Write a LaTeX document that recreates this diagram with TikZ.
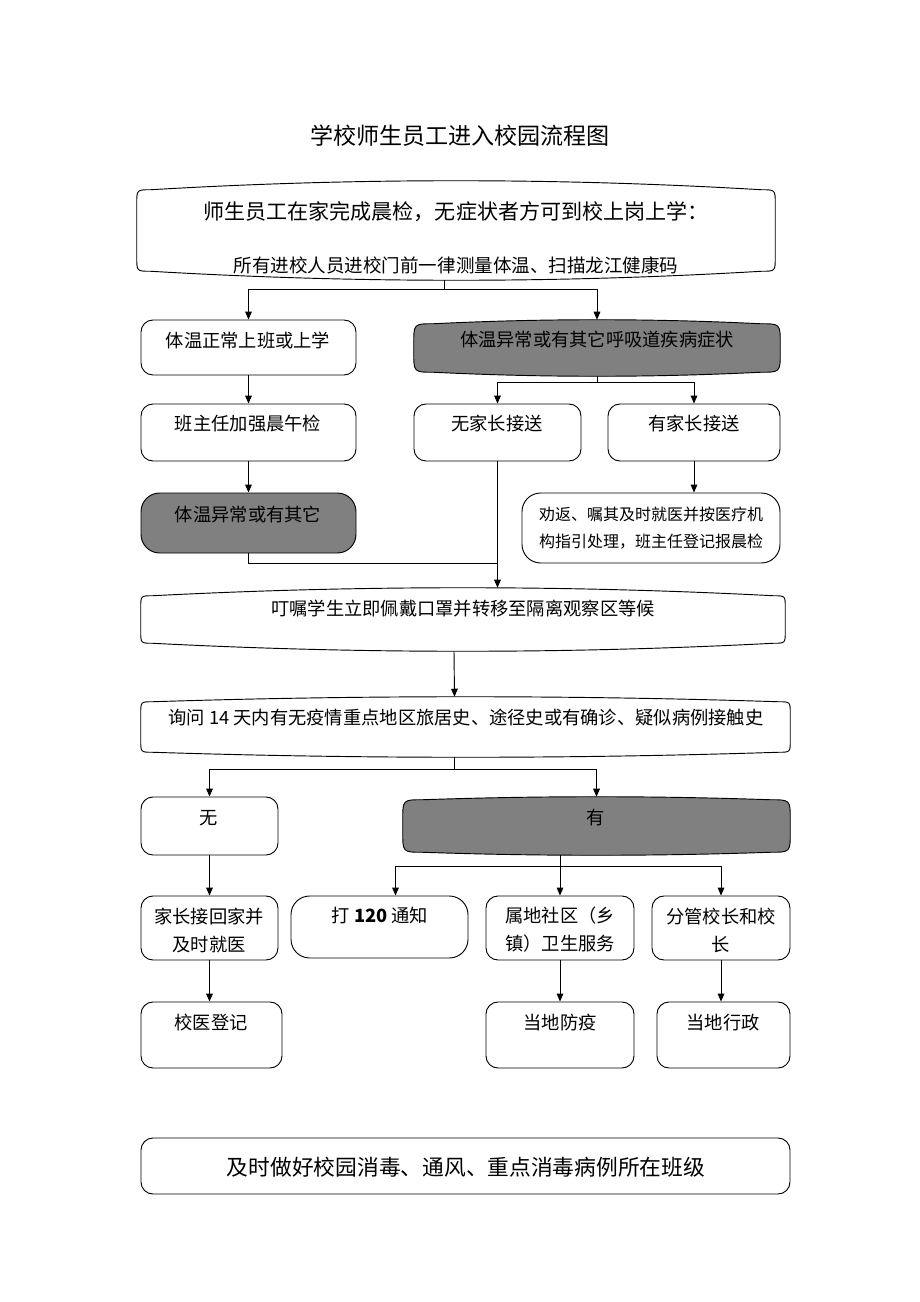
\documentclass[tikz,border=0pt]{standalone}
\usepackage{fontspec}
\newfontfamily\cjk{Noto Sans CJK SC}
\usetikzlibrary{arrows.meta,calc,fit}
\definecolor{boxgray}{HTML}{808080}

% #1 node, #2 bow, #3 corner, #4 style
\newcommand{\bowbox}[4]{%
\path (#1.north west) ++(#3,#2) coordinate (#1-b) (#1.north east) ++(-#3,#2) coordinate (#1-c)
      (#1.south east) ++(-#3,-#2) coordinate (#1-f) (#1.south west) ++(#3,-#2) coordinate (#1-g);
\draw[#4] ($(#1.north west)+(0,#2+#3)$) .. controls ($(#1.north west)+(0,#2)$) .. (#1-b)
  .. controls ($(#1-b)!1/3!(#1-c)+(0,-4*#2/3)$) and ($(#1-b)!2/3!(#1-c)+(0,-4*#2/3)$) .. (#1-c)
  .. controls ($(#1.north east)+(0,#2)$) .. ($(#1.north east)+(0,#2+#3)$)
  -- ($(#1.south east)+(0,-#2-#3)$)
  .. controls ($(#1.south east)+(0,-#2)$) .. (#1-f)
  .. controls ($(#1-f)!1/3!(#1-g)+(0,4*#2/3)$) and ($(#1-f)!2/3!(#1-g)+(0,4*#2/3)$) .. (#1-g)
  .. controls ($(#1.south west)+(0,-#2)$) .. ($(#1.south west)+(0,-#2-#3)$) -- cycle;}

\begin{document}
\begin{tikzpicture}[x=0.75pt,y=-0.75pt,
  box/.style={draw,line width=0.7pt,rounded corners=9pt,inner sep=0pt},
  graybox/.style={box,fill=boxgray},
  bow/.style={inner sep=0pt},
  edge/.style={line width=0.7pt},
  arr/.style={edge,-{Triangle[length=6pt,width=5pt]}},
  lbl/.style={inner sep=0pt,align=center,font=\cjk\fontsize{13.7}{21}\selectfont}]
\useasboundingbox (0,0) rectangle (920,1302);

\node[font=\cjk\fontsize{17.3}{20}\selectfont] (title) at (460,136) {学校师生员工进入校园流程图};

% boxes
\node[bow,fit={(137,181) (775,280)}] (top) {};
\node[bow,fit={(414,320) (780,376)}] (abn) {};
\node[box,fit={(141,320) (356,375)}] (normal) {};
\node[box,fit={(141,404) (356,461)}] (head) {};
\node[box,fit={(414,404) (581,461)}] (nofam) {};
\node[box,fit={(608,404) (780,461)}] (fam) {};
\node[graybox,rounded corners=14pt,fit={(141,493) (356,553)}] (sick) {};
\node[box,rounded corners=14pt,fit={(522,493) (780,563)}] (advise) {};
\node[bow,fit={(141,588) (785,651)}] (wait) {};
\node[bow,fit={(141,697) (790,757)}] (ask) {};
\node[box,fit={(141,797) (278,855)}] (no) {};
\node[bow,fit={(403,797) (790,855)}] (yes) {};
\node[box,fit={(141,896) (278,960)}] (home) {};
\node[box,rounded corners=14pt,fit={(291,896) (468,958)}] (call) {};
\node[box,fit={(486,896) (634,960)}] (comm) {};
\node[box,fit={(652,896) (790,960)}] (vice) {};
\node[box,fit={(141,1002) (282,1068)}] (doc) {};
\node[box,fit={(486,1002) (634,1068)}] (cdc) {};
\node[box,fit={(657,1002) (790,1068)}] (edu) {};
\node[box,fit={(141,1138) (790,1194)}] (final) {};

\bowbox{top}{9}{14}{edge}
\bowbox{abn}{4}{20}{edge,fill=boxgray}
\bowbox{wait}{8}{12}{edge}
\bowbox{ask}{5}{12}{edge}
\bowbox{yes}{3}{20}{edge,fill=boxgray}

% texts
\node[lbl,font=\cjk\fontsize{15.8}{20}\selectfont] (top-t1) at (456,212) {师生员工在家完成晨检，无症状者方可到校上岗上学：};
\node[lbl,font=\cjk\fontsize{13.9}{20}\selectfont] (top-t2) at (456,265) {所有进校人员进校门前一律测量体温、扫描龙江健康码};
\node[lbl] (normal-t) at (248,340) {体温正常上班或上学};
\node[lbl] (abn-t) at (597,340) {体温异常或有其它呼吸道疾病症状};
\node[lbl] (head-t) at (248,424) {班主任加强晨午检};
\node[lbl] (nofam-t) at (497,424) {无家长接送};
\node[lbl] (fam-t) at (694,424) {有家长接送};
\node[lbl] (sick-t) at (248,515) {体温异常或有其它};
\node[lbl,font=\cjk\fontsize{12}{20}\selectfont] (advise-t) at (651,528) {劝返、嘱其及时就医并按医疗机\\构指引处理，班主任登记报晨检};
\node[lbl] (wait-t) at (463,609) {叮嘱学生立即佩戴口罩并转移至隔离观察区等候};
\node[lbl] (ask-t) at (466,718) {询问 14 天内有无疫情重点地区旅居史、途径史或有确诊、疑似病例接触史};
\node[lbl] (no-t) at (209,818) {无};
\node[lbl] (yes-t) at (596,818) {有};
\node[lbl] (home-t) at (209,930) {家长接回家并\\及时就医};
\node[lbl] (call-t) at (380,916) {打 {\bfseries 120} 通知};
\node[lbl] (comm-t) at (560,930) {属地社区（乡\\镇）卫生服务};
\node[lbl] (vice-t) at (721,930) {分管校长和校\\长};
\node[lbl] (doc-t) at (211,1023) {校医登记};
\node[lbl] (cdc-t) at (560,1023) {当地防疫};
\node[lbl] (edu-t) at (723,1023) {当地行政};
\node[lbl,font=\cjk\fontsize{16.3}{20}\selectfont] (final-t) at (466,1167) {及时做好校园消毒、通风、重点消毒病例所在班级};

% connectors
\coordinate (s1) at ($(top.south)+(-12,9)$);
\draw[edge] ($(top.south)+(-12,0)$) -- (s1);
\draw[arr] (s1) -| (normal.north);
\draw[arr] (s1) -| (abn.north);
\draw[arr] (normal) -- (head);
\draw[arr] (head) -- (sick);
\coordinate (s2) at ($(abn.south)+(0,6)$);
\draw[edge] (abn.south) -- (s2);
\draw[arr] (s2) -| (nofam.north);
\draw[arr] (s2) -| (fam.north);
\draw[arr] (nofam.south) -- (nofam.south |- wait.north);
\draw[edge] (sick.south) -- ++(0,10) -| (nofam.south);
\draw[arr] (fam.south) -- (fam.south |- advise.north);
\draw[arr] ($(wait.south)+(-9,0)$) -- ($(ask.north)+(-11,0)$);
\coordinate (s3) at ($(ask.south)+(-11,12)$);
\draw[edge] ($(ask.south)+(-11,0)$) -- (s3);
\draw[arr] (s3) -| (no.north);
\draw[arr] (s3) -| (yes.north);
\draw[arr] (no) -- (home);
\coordinate (s4) at ($(comm.north |- yes.south)+(0,11)$);
\draw[edge] (comm.north |- yes.south) -- (s4);
\draw[arr] (s4) -| ($(call.north)+(16,0)$);
\draw[arr] (s4) -- (comm.north);
\draw[arr] (s4) -| (vice.north);
\draw[arr] (home.south) -- (home.south |- doc.north);
\draw[arr] (comm) -- (cdc);
\draw[arr] (vice.south) -- (vice.south |- edu.north);
\end{tikzpicture}
\end{document}
